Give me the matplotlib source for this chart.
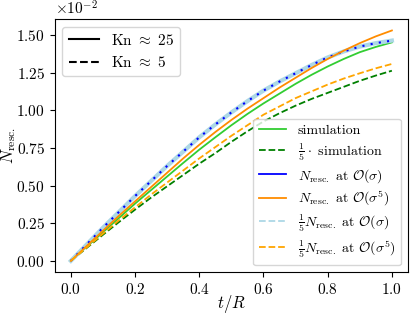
import numpy as np
import matplotlib
matplotlib.use('Agg')
import matplotlib.pyplot as plt
from matplotlib.lines import Line2D

plt.rcParams['font.family'] = 'serif'
plt.rcParams['font.serif'] = ['cmr10']
plt.rcParams['mathtext.fontset'] = 'cm'
plt.rcParams['axes.formatter.use_mathtext'] = True
plt.rcParams['axes.unicode_minus'] = False
plt.rcParams['font.size'] = 11

# t/R
t = [0.0, 0.05, 0.1, 0.15, 0.2, 0.25, 0.3, 0.35, 0.4, 0.45, 0.5,
     0.55, 0.6, 0.65, 0.7, 0.75, 0.8, 0.85, 0.9, 0.95, 1.0]

# values in units of 1e-2
sim_kn25 = [0, 0.095, 0.19, 0.285, 0.38, 0.47, 0.56, 0.65, 0.738, 0.82, 0.9,
            0.975, 1.045, 1.11, 1.175, 1.235, 1.29, 1.34, 1.385, 1.42, 1.45]
sim_kn5 = [0, 0.087, 0.173, 0.258, 0.34, 0.42, 0.495, 0.57, 0.645, 0.715, 0.79,
           0.86, 0.925, 0.98, 1.03, 1.075, 1.115, 1.155, 1.195, 1.23, 1.262]
n_sig1_kn25 = [0, 0.11, 0.22, 0.325, 0.43, 0.53, 0.63, 0.725, 0.82, 0.905, 0.985,
               1.06, 1.13, 1.19, 1.245, 1.3, 1.35, 1.39, 1.422, 1.445, 1.462]
n_sig5_kn25 = [0, 0.1, 0.2, 0.3, 0.395, 0.49, 0.585, 0.68, 0.77, 0.855, 0.935,
               1.01, 1.08, 1.15, 1.215, 1.28, 1.34, 1.395, 1.445, 1.49, 1.529]
n_sig1_kn5 = n_sig1_kn25  # 1/5 N at O(sigma) lies on top of the Kn~25 curve
n_sig5_kn5 = [0, 0.09, 0.18, 0.27, 0.355, 0.44, 0.52, 0.6, 0.68, 0.755, 0.83,
              0.9, 0.97, 1.025, 1.08, 1.125, 1.17, 1.21, 1.245, 1.278, 1.307]

scale = 1e-2
t = np.array(t)

fig = plt.figure(figsize=(4.15, 3.16), dpi=100)
ax = fig.add_axes([0.132, 0.138, 0.851, 0.802])

ax.plot(t, np.array(sim_kn25) * scale, color='limegreen', lw=1.3)
ax.plot(t, np.array(sim_kn5) * scale, color='green', ls='--', lw=1.3)
ax.plot(t, np.array(n_sig1_kn5) * scale, color='lightblue', lw=3.0)
ax.plot(t, np.array(n_sig1_kn25) * scale, color='blue', ls=(0, (1, 3)), lw=1.5)
ax.plot(t, np.array(n_sig5_kn25) * scale, color='darkorange', lw=1.3)
ax.plot(t, np.array(n_sig5_kn5) * scale, color='orange', ls='--', lw=1.3)

ax.set_xlabel(r'$t/R$', fontsize=12, labelpad=-3)
ax.set_ylabel(r'$N_\mathrm{resc.}$', fontsize=12, labelpad=-1)
ax.set_yticks(np.array([0, 0.25, 0.5, 0.75, 1.0, 1.25, 1.5]) * scale)
ax.ticklabel_format(axis='y', style='sci', scilimits=(-2, -2))

# legend for Knudsen numbers
kn_handles = [Line2D([], [], color='black', lw=1.5),
              Line2D([], [], color='black', lw=1.5, ls='--')]
leg1 = ax.legend(kn_handles, [r'$\mathrm{Kn}\ \approx\ 25$', r'$\mathrm{Kn}\ \approx\ 5$'],
                 loc='upper left')
ax.add_artist(leg1)

curve_handles = [
    Line2D([], [], color='limegreen', lw=1.3),
    Line2D([], [], color='green', lw=1.3, ls='--'),
    Line2D([], [], color='blue', lw=1.3),
    Line2D([], [], color='darkorange', lw=1.3),
    Line2D([], [], color='lightblue', lw=1.3, ls='--'),
    Line2D([], [], color='orange', lw=1.3, ls='--'),
]
curve_labels = [
    'simulation',
    r'$\frac{1}{5}\cdot$ simulation',
    r'$N_\mathrm{resc.}$ at $\mathcal{O}(\sigma)$',
    r'$N_\mathrm{resc.}$ at $\mathcal{O}(\sigma^5)$',
    r'$\frac{1}{5}N_\mathrm{resc.}$ at $\mathcal{O}(\sigma)$',
    r'$\frac{1}{5}N_\mathrm{resc.}$ at $\mathcal{O}(\sigma^5)$',
]
ax.legend(curve_handles, curve_labels, loc='lower right', fontsize=10,
          labelspacing=0.3)

fig.savefig('out.png', dpi=100)
